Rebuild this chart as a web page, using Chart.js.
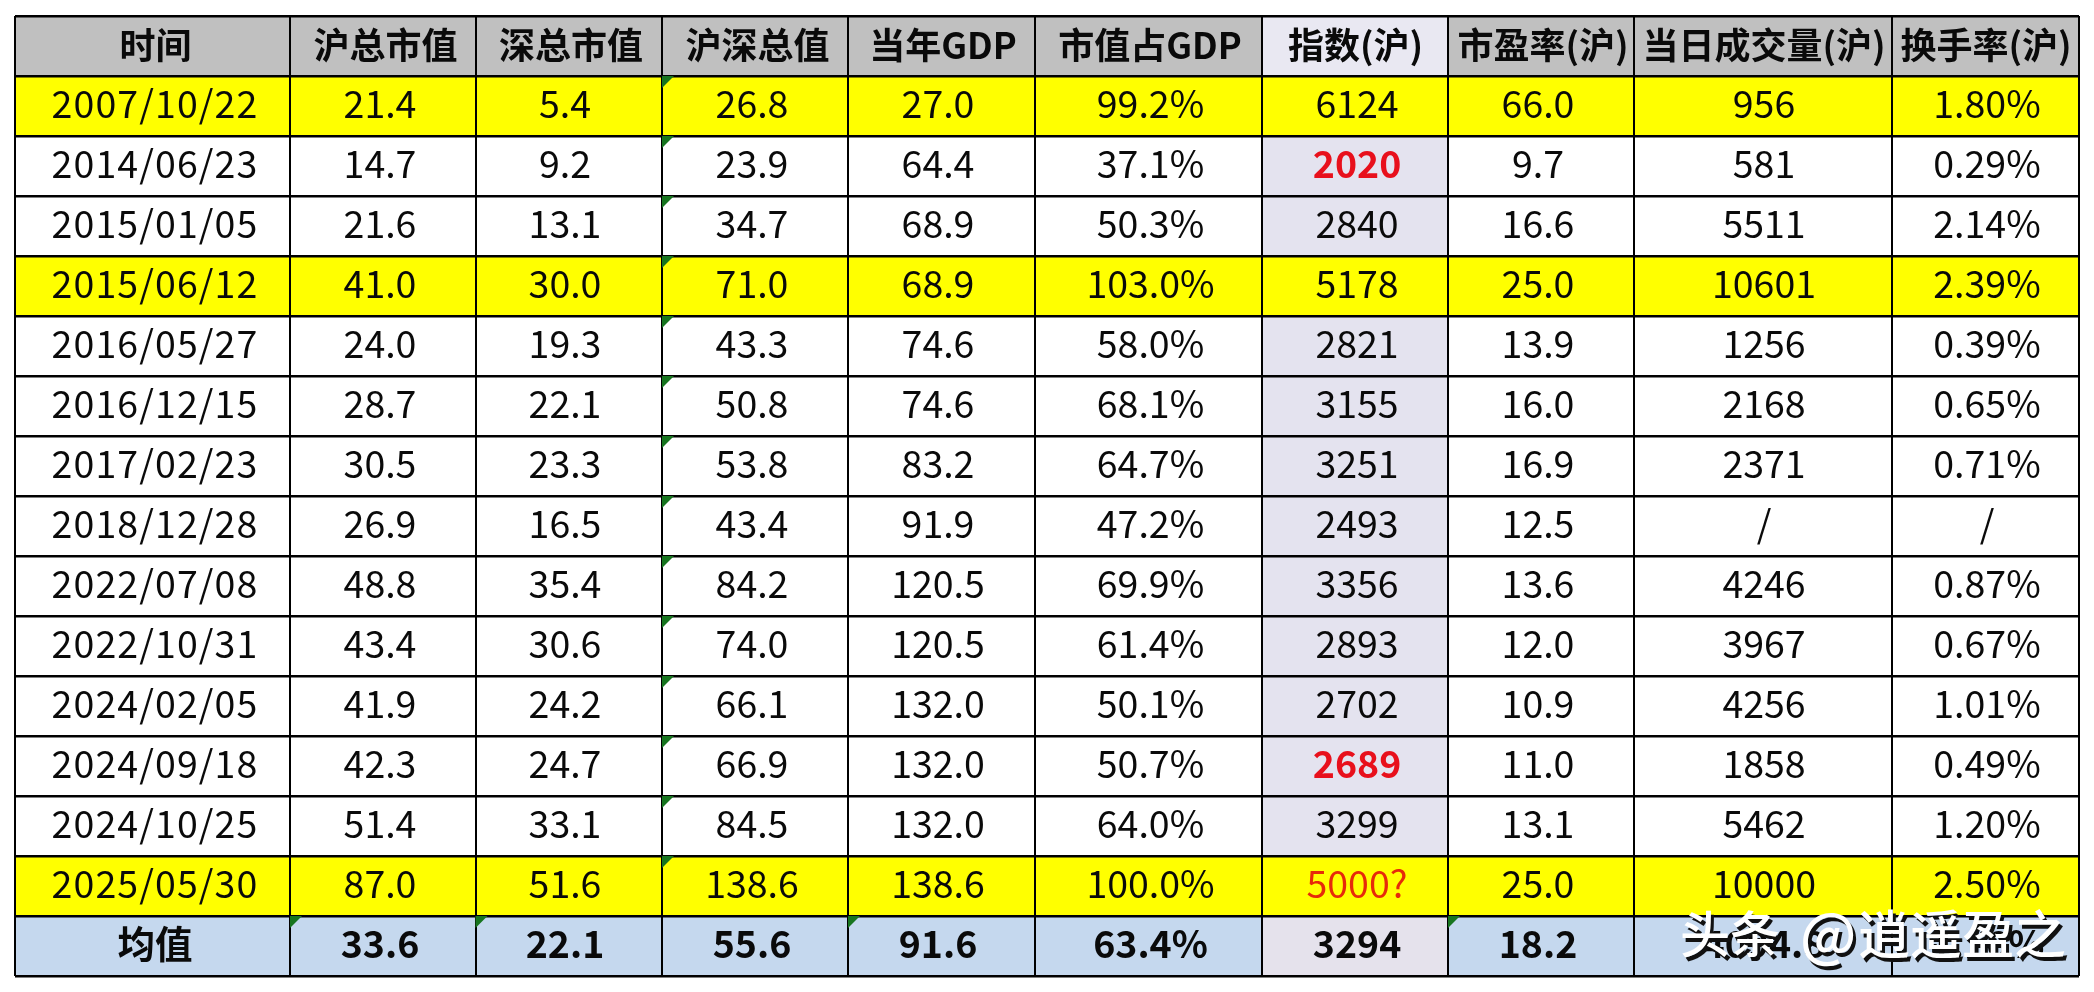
<!DOCTYPE html>
<html><head><meta charset="utf-8">
<style>html,body{margin:0;padding:0;background:#fff}canvas{display:block}</style>
<script src="https://cdn.jsdelivr.net/npm/chart.js@4"></script>
</head><body><canvas id="c" width="2094" height="992" style="width:2094px;height:992px"></canvas>
<script>
// ---- data ----
const headers=["时间","沪总市值","深总市值","沪深总值","当年GDP","市值占GDP","指数(沪)","市盈率(沪)","当日成交量(沪)","换手率(沪)"];
const dates=["2007/10/22","2014/06/23","2015/01/05","2015/06/12","2016/05/27","2016/12/15","2017/02/23","2018/12/28","2022/07/08","2022/10/31","2024/02/05","2024/09/18","2024/10/25","2025/05/30","均值"];
const shCap=[21.4,14.7,21.6,41.0,24.0,28.7,30.5,26.9,48.8,43.4,41.9,42.3,51.4,87.0,33.6];
const szCap=[5.4,9.2,13.1,30.0,19.3,22.1,23.3,16.5,35.4,30.6,24.2,24.7,33.1,51.6,22.1];
const totalCap=[26.8,23.9,34.7,71.0,43.3,50.8,53.8,43.4,84.2,74.0,66.1,66.9,84.5,138.6,55.6];
const gdp=[27.0,64.4,68.9,68.9,74.6,74.6,83.2,91.9,120.5,120.5,132.0,132.0,132.0,138.6,91.6];
const capToGdp=[99.2,37.1,50.3,103.0,58.0,68.1,64.7,47.2,69.9,61.4,50.1,50.7,64.0,100.0,63.4];
const indexSh=[6124,2020,2840,5178,2821,3155,3251,2493,3356,2893,2702,2689,3299,"5000?",3294];
const peSh=[66.0,9.7,16.6,25.0,13.9,16.0,16.9,12.5,13.6,12.0,10.9,11.0,13.1,25.0,18.2];
const volumeSh=[956,581,5511,10601,1256,2168,2371,null,4246,3967,4256,1858,5462,10000,4094.8];
const turnoverSh=[1.80,0.29,2.14,2.39,0.39,0.65,0.71,null,0.87,0.67,1.01,0.49,1.20,2.50,1.16];
const watermarkParts=["头条","@","逍遥盈之"];

// ---- layout and style ----
const W=2094,H=992;
const colEdges=[15,290,475.5,662,848,1035,1262,1448,1634,1892,2079];
const headCenters=[155.5,385.5,571,757.5,943,1150,1355.5,1543,1764,1986];
const cellCenters=[155,380,565,752,938,1150.5,1357,1538,1764,1987];
const highlightRows=[1,4,14];
const redBold=[2,12], meanRow=15;
const triangles=[[3,1],[3,2],[3,3],[3,4],[3,5],[3,6],[3,7],[3,8],[3,9],[3,10],[3,11],[3,12],[3,13],[3,14],[1,15],[2,15],[4,15],[7,15]];
const FONT='"Noto Sans CJK SC","Noto Sans",sans-serif';
const dataSize=37.5, headSize=36;
const wmStyle=[{x:1680,size:50},{x:1800,size:58},{x:1858,size:52}];

const fmt=(v,d,s='')=>v===null?'/':typeof v==='string'?v:Number(v).toFixed(d)+s;
const columns=[
  dates,
  shCap.map(v=>fmt(v,1)),szCap.map(v=>fmt(v,1)),totalCap.map(v=>fmt(v,1)),gdp.map(v=>fmt(v,1)),
  capToGdp.map(v=>fmt(v,1,'%')),
  indexSh.map(v=>fmt(v,0)),
  peSh.map(v=>fmt(v,1)),
  volumeSh.map((v,i)=>i===14?fmt(v,1):fmt(v,0)),
  turnoverSh.map(v=>fmt(v,2,'%'))
];
const rowLabels=[headers[0],...dates];
function cellColor(c,r){
  if(r===0) return c===6?'#e9e8f2':'#c0c0c0';
  if(highlightRows.includes(r)) return '#ffff00';
  if(r===meanRow) return c===6?'#e5e2ec':'#c5d8ee';
  return c===6?'#e4e3ef':'#ffffff';
}
const datasets=headers.map((h,c)=>({
  label:h,
  grouped:false,
  barPercentage:1,categoryPercentage:1,
  borderWidth:0,
  data:rowLabels.map(()=>[colEdges[c],colEdges[c+1]]),
  backgroundColor:rowLabels.map((_,r)=>cellColor(c,r))
}));

const tablePlugin={id:'tableText',afterDraw(chart){
  const {ctx,scales:{x,y}}=chart;
  ctx.save();
  ctx.textAlign='center';ctx.textBaseline='middle';
  headers.forEach((h,c)=>{
    ctx.font='bold '+headSize+'px '+FONT;ctx.fillStyle='#0a0a0a';
    ctx.fillText(h,x.getPixelForValue(headCenters[c]),y.getPixelForValue(0)-1);
  });
  columns.forEach((col,c)=>col.forEach((t,i)=>{
    const r=i+1;
    const isMean=r===meanRow, isRed=c===6&&redBold.includes(r), isQ=c===6&&r===14;
    ctx.letterSpacing=(c===0&&!isMean)?'1.1px':'0px';
    ctx.font=((isMean||isRed)?'bold ':'')+dataSize+'px '+FONT;
    ctx.fillStyle=isRed?'#e8101c':isQ?'#e62a0a':'#0a0a0a';
    ctx.fillText(t,x.getPixelForValue(cellCenters[c]),y.getPixelForValue(r)-2);
  }));
  ctx.letterSpacing='0px';
  // green comment corners
  ctx.fillStyle='#17751f';
  triangles.forEach(([c,r])=>{
    const px=x.getPixelForValue(colEdges[c]), py=y.getPixelForValue(r-0.5);
    ctx.beginPath();ctx.moveTo(px,py);ctx.lineTo(px+12,py);ctx.lineTo(px,py+12);ctx.closePath();ctx.fill();
  });
  // watermark
  ctx.textAlign='left';
  watermarkParts.forEach((t,i)=>{
    const s=wmStyle[i];
    ctx.font='500 '+s.size+'px '+FONT;
    ctx.fillStyle='#111';
    ctx.fillText(t,s.x+3,938);
    ctx.fillStyle='#fff';
    ctx.fillText(t,s.x,934);
  });
  ctx.restore();
}};

new Chart(document.getElementById('c'),{
  type:'bar',
  data:{labels:rowLabels,datasets},
  plugins:[tablePlugin],
  options:{
    indexAxis:'y',responsive:false,animation:false,devicePixelRatio:1,
    layout:{padding:{left:15,right:W-2079,top:16,bottom:H-976}},
    plugins:{legend:{display:false},tooltip:{enabled:false},title:{display:false}},
    scales:{
      x:{type:'linear',min:15,max:2079,
         afterBuildTicks(s){s.ticks=colEdges.map(v=>({value:v}));},
         ticks:{display:false},
         border:{display:false},
         grid:{color:'#000',lineWidth:2,drawTicks:false,z:1}},
      y:{type:'category',
         ticks:{display:false},
         border:{display:false},
         grid:{color:'#000',lineWidth:2.6,drawTicks:false,offset:true,z:1}}
    }
  }
});
</script></body></html>
